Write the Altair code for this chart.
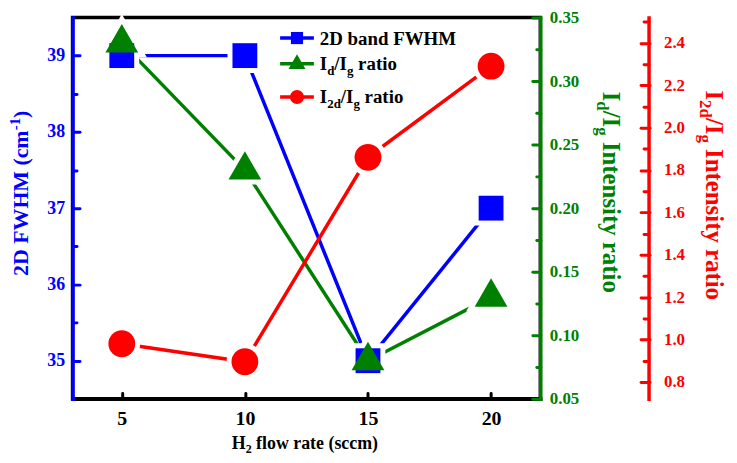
import altair as alt
import pandas as pd

# ---------------- data ----------------
flow = [5, 10, 15, 20]
fwhm = [39, 39, 35, 37]
id_ig = [0.33, 0.23, 0.08, 0.13]
i2d_ig = [0.98, 0.895, 1.86, 2.29]

x_ticks = [5, 10, 15, 20]
blue_ticks = [35, 36, 37, 38, 39]
blue_minor = [35.5, 36.5, 37.5, 38.5]
green_ticks = [0.05, 0.10, 0.15, 0.20, 0.25, 0.30, 0.35]
green_minor = [0.075, 0.125, 0.175, 0.225, 0.275, 0.325]
red_ticks = [0.8, 1.0, 1.2, 1.4, 1.6, 1.8, 2.0, 2.2, 2.4]
red_minor = [0.9, 1.1, 1.3, 1.5, 1.7, 1.9, 2.1, 2.3, 2.5]

df = pd.DataFrame({"flow": flow, "fwhm": fwhm, "idig": id_ig, "i2d": i2d_ig})
one = pd.DataFrame({"a": [0]})

FONT = "Liberation Serif"
BLUE = "#0000ff"
GREEN = "#008000"
RED = "#ff0000"
BLACK = "#000000"
LW = 3.5

XS = alt.Scale(domain=[3, 22], nice=False, zero=False)
BS = alt.Scale(domain=[34.5, 39.5], nice=False, zero=False)
GS = alt.Scale(domain=[0.05, 0.35], nice=False, zero=False)
RS = alt.Scale(domain=[0.72, 2.52], nice=False, zero=False)

# Times-Bold character widths (em) for composing rich text
W = {' ': 0.25, '(': 0.333, ')': 0.333, '-': 0.333, '/': 0.278, '0': 0.5, '1': 0.5,
     '2': 0.5, 'D': 0.722, 'F': 0.611, 'H': 0.778, 'I': 0.389, 'M': 0.944, 'W': 1.0,
     'a': 0.5, 'b': 0.556, 'c': 0.444, 'd': 0.556, 'e': 0.444, 'f': 0.333, 'g': 0.5,
     'i': 0.278, 'l': 0.278, 'm': 0.833, 'n': 0.556, 'o': 0.5, 'r': 0.444, 's': 0.389,
     't': 0.333, 'w': 0.722, 'y': 0.5}


def tw(t, s):
    return sum(W.get(c, 0.5) for c in t) * s


def rich(segs, x, y, angle, color, center=True):
    total = sum(tw(t, s) for t, s, _ in segs)
    adv = -total / 2 if center else 0
    out = []
    for t, s, shift in segs:
        lead = len(t) - len(t.lstrip(" "))
        adv += lead * W[" "] * s
        t2 = t.lstrip(" ")
        out.append(
            alt.Chart(one).mark_text(
                text=t2, font=FONT, fontSize=s, fontWeight="bold", color=color,
                align="left", baseline="alphabetic", angle=angle, dx=adv, dy=shift
            ).encode(x=alt.value(x), y=alt.value(y))
        )
        adv += tw(t2, s)
    return out


def lab_axis(orient, values, fmt, color, size, pad, offset=0):
    return alt.Axis(orient=orient, values=values, format=fmt, offset=offset,
                    domain=True, domainColor=color, domainWidth=LW, domainCap="square",
                    ticks=False, tickSize=0, grid=False, title=None,
                    labelFont=FONT, labelFontSize=size, labelFontWeight="bold",
                    labelColor=color, labelPadding=pad, labelFlush=False,
                    labelOverlap=False)


def tick_axis(orient, values, color, size, offset):
    return alt.Axis(orient=orient, values=values, offset=offset, domain=False,
                    labels=False, ticks=True, tickSize=size, tickWidth=3,
                    tickColor=color, tickCap="round", grid=False, title=None)


def X(axis=None):
    return alt.X("flow:Q", scale=XS, axis=axis)


# ---------------- lines (with main axes) ----------------
blue_line = alt.Chart(df).mark_line(color=BLUE, strokeWidth=LW).encode(
    x=X(lab_axis("bottom", x_ticks, "d", BLACK, 20, 10)),
    y=alt.Y("fwhm:Q", scale=BS, axis=lab_axis("left", blue_ticks, "d", BLUE, 18, 8)),
)
green_line = alt.Chart(df).mark_line(color=GREEN, strokeWidth=LW).encode(
    x=X(),
    y=alt.Y("idig:Q", scale=GS, axis=lab_axis("right", green_ticks, ".2f", GREEN, 17, 9)),
)
red_line = alt.Chart(df).mark_line(color=RED, strokeWidth=LW).encode(
    x=X(),
    y=alt.Y("i2d:Q", scale=RS, axis=lab_axis("right", red_ticks, ".1f", RED, 17, 15, offset=109)),
)

# ---------------- tick-only axes ----------------
tick_layers = [
    alt.Chart(df).mark_point(opacity=0).encode(
        x=X(tick_axis("bottom", x_ticks, BLACK, 6, -6)),
        y=alt.Y("fwhm:Q", scale=BS, axis=tick_axis("left", blue_ticks, BLUE, 7, -7))),
    alt.Chart(df).mark_point(opacity=0).encode(
        x=X(),
        y=alt.Y("fwhm:Q", scale=BS, axis=tick_axis("left", blue_minor, BLUE, 4, -4))),
    alt.Chart(df).mark_point(opacity=0).encode(
        x=X(),
        y=alt.Y("idig:Q", scale=GS, axis=tick_axis("right", green_ticks, GREEN, 8, -8))),
    alt.Chart(df).mark_point(opacity=0).encode(
        x=X(),
        y=alt.Y("idig:Q", scale=GS, axis=tick_axis("right", green_minor, GREEN, 4, -4))),
    alt.Chart(df).mark_point(opacity=0).encode(
        x=X(),
        y=alt.Y("i2d:Q", scale=RS, axis=tick_axis("right", red_ticks, RED, 9, 101))),
    alt.Chart(df).mark_point(opacity=0).encode(
        x=X(),
        y=alt.Y("i2d:Q", scale=RS, axis=tick_axis("right", red_minor, RED, 5, 104))),
]

# ---------------- markers ----------------
SQ, TR, CI = 625, 1089, 729
TRY = -4.7


def pts(field, scale, shape, size, fill, yoff=0):
    return alt.Chart(df).mark_point(
        shape=shape, size=size, filled=True, fill=fill, strokeWidth=0,
        opacity=1, yOffset=yoff
    ).encode(x=X(), y=alt.Y(field, scale=scale, axis=None))


halos = [
    pts("fwhm:Q", BS, "square", 1225, "white"),
    pts("idig:Q", GS, "triangle-up", 2540, "white", -7.3),
    pts("i2d:Q", RS, "circle", 1369, "white"),
]
markers = [
    pts("fwhm:Q", BS, "square", SQ, BLUE),
    pts("idig:Q", GS, "triangle-up", TR, GREEN, TRY),
    pts("i2d:Q", RS, "circle", CI, RED),
]

# ---------------- legend ----------------
LX0, LX1, LXS, LXT = 209, 243, 226, 249
rows = [(20.7, 28.0, BLUE, "square", 150, 0),
        (46.5, 53.3, GREEN, "triangle-up", 290, -2),
        (80.0, 85.7, RED, "circle", 200, 0)]
legend = []
for ys, yb, col, shp, sz, yo in rows:
    legend.append(alt.Chart(one).mark_rule(color=col, strokeWidth=LW).encode(
        x=alt.value(LX0), x2=alt.value(LX1), y=alt.value(ys)))
    legend.append(alt.Chart(one).mark_point(
        shape=shp, size=sz, filled=True, fill=col, strokeWidth=0,
        opacity=1, yOffset=yo).encode(x=alt.value(LXS), y=alt.value(ys)))

legend += rich([("2D band FWHM", 19, 0)], LXT, rows[0][1], 0, BLACK, center=False)
legend += rich([("I", 19, 0), ("d", 13, 5), ("/I", 19, 0), ("g", 13, 5), (" ratio", 19, 0)],
               LXT, rows[1][1], 0, BLACK, center=False)
legend += rich([("I", 19, 0), ("2d", 13, 5), ("/I", 19, 0), ("g", 13, 5), (" ratio", 19, 0)],
               LXT, rows[2][1], 0, BLACK, center=False)

# ---------------- axis titles ----------------
titles = []
titles += rich([("2D FWHM (cm", 22, 0), ("-1", 15, -8), (")", 22, 0)], -45, 177, 270, BLUE)
titles += rich([("I", 25, 0), ("d", 17, 6), ("/I", 25, 0), ("g", 17, 6),
                (" Intensity ratio", 25, 0)], 534, 176, 90, GREEN)
titles += rich([("I", 25, 0), ("2d", 17, 6), ("/I", 25, 0), ("g", 17, 6),
                (" Intensity ratio", 25, 0)], 638, 179, 90, RED)
titles += rich([("H", 18, 0), ("2", 12, 4), (" flow rate (sccm)", 18, 0)], 234, 435, 0, BLACK)

layers = [blue_line, green_line, red_line] + tick_layers + halos + markers + legend + titles

chart = alt.layer(*layers).resolve_scale(
    x="independent", y="independent"
).properties(
    width=471, height=384,
    autosize=alt.AutoSizeParams(type="none"),
    padding={"left": 65, "top": 8, "right": 190, "bottom": 55},
).configure_view(stroke=BLACK, strokeWidth=LW)

chart.save("out.html", embed_options={"renderer": "svg", "actions": False})
